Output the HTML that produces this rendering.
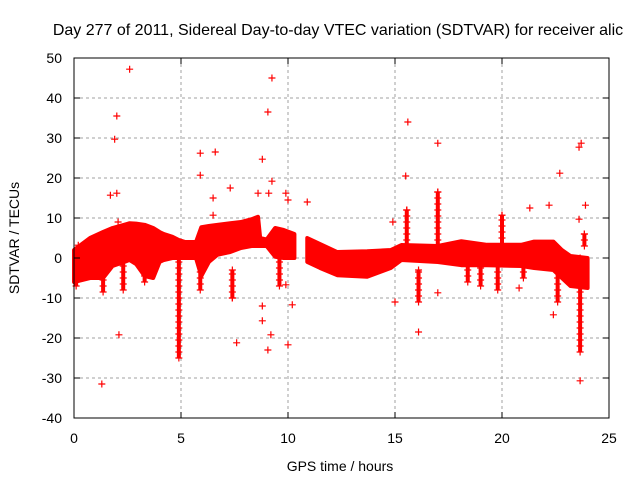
<!DOCTYPE html>
<html><head><meta charset="utf-8"><style>
body{margin:0;background:#fff}
svg{display:block;font-family:"Liberation Sans",sans-serif}
</style></head><body>
<svg id="chart" width="640" height="480">
<text x="338" y="35" text-anchor="middle" font-size="16">Day 277 of 2011, Sidereal Day-to-day VTEC variation (SDTVAR) for receiver alic</text>
<text x="340" y="471" text-anchor="middle" font-size="14">GPS time / hours</text>
<text transform="translate(19,238) rotate(-90)" text-anchor="middle" font-size="14">SDTVAR / TECUs</text>
<g id="grid"></g><g id="marks"></g>
<rect x="74" y="58" width="535" height="360" fill="none" stroke="#000" stroke-width="1"/>
<g id="ticks"></g>
</svg>
<script>
const xTicks=[0,5,10,15,20,25];
const yTicks=[-40,-30,-20,-10,0,10,20,30,40,50];
const bandAT=[0,0.75,1.36,1.8,2.6,2.9,3.3,3.7,4.0,4.2,4.6,4.9,5.2,5.7,5.95,6.3,6.7,7.3,7.8,8.3,8.6,8.7,9.0,9.4,9.8,10.3];
const bandAUp=[2,5,6.5,7.5,8.7,8.6,8.3,7.5,6.5,6,5.3,4.5,4,4,7.7,8,8.3,8.7,9,9.7,10.3,5,4.6,7.5,7,6];
const bandALo=[-6,-5,-5,-2,-0.5,-1.5,-4.5,-5,-1,-0.5,0,0,0,0,-4.5,-1,0.8,1.5,2.5,3,3,3,3,0.3,0,0];
const bandBT=[10.9,11.5,12.3,13.7,14.8,15.3,17.0,18.1,19.3,20.9,21.5,22.4,22.8,23.2,24.0];
const bandBUp=[5,3.5,1.5,1.7,2,3.25,3,4.2,3.3,3.3,4.1,4.1,2,0.5,0];
const bandBLo=[-1,-2.5,-4.3,-4.7,-2.5,-0.5,-1,-1.8,-1.8,-2,-2.5,-3,-5,-7,-7.5];
const spikeT=[4.9,1.36,2.3,3.3,5.9,7.4,9.6,15.55,16.1,17.0,20.0,19.8,22.6,23.65,23.85,18.4,21.0,19.0,0.1];
const spikeLo=[-25,-8.5,-8,-6,-8,-10,-7,3,-11,3,-1,-8,-11,-23.5,3,-6,-5,-7,-7];
const spikeHi=[0,-2,-1,-1,-2,-3,0,12,-3,16.5,10.7,-2,-3,0,6,-2,-2,-2,2];
const outT=[2.6,2.0,1.9,1.7,2.0,2.06,1.3,2.1,9.25,9.06,8.8,9.25,5.9,6.6,5.9,7.3,8.6,9.9,10.0,10.9,9.1,6.5,6.5,8.8,8.8,9.06,9.2,10,7.6,10.2,7.4,9.9,15.6,15.5,17,14.9,15,16.1,21.3,22.2,22.7,23.6,23.7,23.9,23.6,22.4,23.65,17,20,20.8,0.2];
const outV=[47.2,35.5,29.7,15.7,16.2,9,-31.5,-19.2,45,36.5,24.7,19.2,26.2,26.5,20.7,17.5,16.2,16.2,14.5,14,16.2,15,10.7,-12,-15.7,-23,-19.2,-21.7,-21.2,-11.7,-10,-6.7,34,20.5,28.7,9,-11,-18.5,12.5,13.2,21.2,27.7,28.7,13.2,9.7,-14.2,-30.7,-8.7,10.7,-7.5,3.2];
const NS='http://www.w3.org/2000/svg';
const X=t=>74+t*21.4, Y=v=>258-v*4;
function mk(tag,at,parent){const e=document.createElementNS(NS,tag);for(const k in at)e.setAttribute(k,at[k]);parent.appendChild(e);return e;}
const grid=document.getElementById('grid'),ticks=document.getElementById('ticks'),marks=document.getElementById('marks');
xTicks.forEach(t=>{
 if(t>0&&t<25){const g=mk('line',{x1:X(t),x2:X(t),y1:58,y2:418,stroke:'#a0a0a0','stroke-dasharray':'3,3'},grid);
 
 }
 mk('line',{x1:X(t),x2:X(t),y1:418,y2:412,stroke:'#000'},ticks);
 mk('line',{x1:X(t),x2:X(t),y1:58,y2:64,stroke:'#000'},ticks);
 const l=mk('text',{x:X(t),y:443,'text-anchor':'middle','font-size':'14'},ticks);l.textContent=t;
 
 
});
yTicks.forEach(v=>{
 if(v>-40&&v<50){const g=mk('line',{x1:74,x2:609,y1:Y(v),y2:Y(v),stroke:'#a0a0a0','stroke-dasharray':'3,3'},grid);
 
 }
 mk('line',{x1:74,x2:80,y1:Y(v),y2:Y(v),stroke:'#000'},ticks);
 mk('line',{x1:609,x2:603,y1:Y(v),y2:Y(v),stroke:'#000'},ticks);
 const l=mk('text',{x:62,y:Y(v)+5,'text-anchor':'end','font-size':'14'},ticks);l.textContent=v;
 
 
});
function band(T,U,L,name){
 let pts=T.map((t,i)=>X(t)+','+Y(U[i]));
 for(let i=T.length-1;i>=0;i--)pts.push(X(T[i])+','+Y(L[i]));
 const p=mk('polygon',{points:pts.join(' '),fill:'#ff0000',stroke:'#ff0000','stroke-width':'4','stroke-linejoin':'round'},marks);
 
 
}
band(bandAT,bandAUp,bandALo,'data-band-early');
band(bandBT,bandBUp,bandBLo,'data-band-late');
function plus(t,v,name){
 const x=X(t),y=Y(v);
 const p=mk('path',{d:`M${x-3.5},${y}h7M${x},${y-3.5}v7`,stroke:'#ff0000','stroke-width':'1.2',fill:'none'},marks);
 
 
}
spikeT.forEach((t,i)=>{
 const r=mk('rect',{x:X(t)-2,y:Y(spikeHi[i]),width:4,height:Y(spikeLo[i])-Y(spikeHi[i]),fill:'#ff0000'},marks);
 
 
 for(let v=spikeLo[i];v<=spikeHi[i];v+=1.5)plus(t,v,'spike-point');
 plus(t,spikeHi[i],'spike-point');
});
outT.forEach((t,i)=>plus(t,outV[i],'outlier-point'));
</script>
</body></html>
